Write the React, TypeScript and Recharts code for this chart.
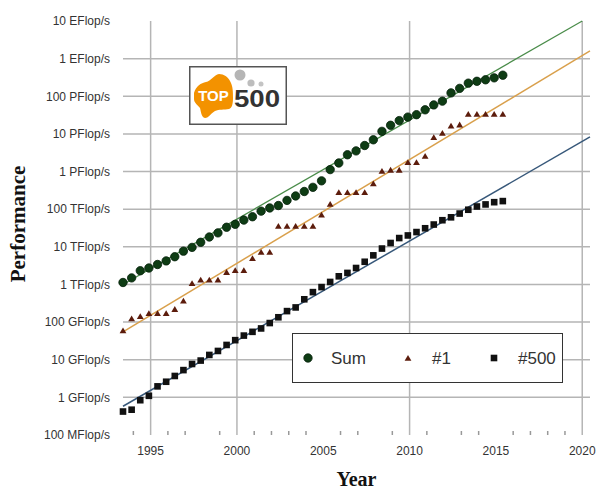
import React from 'react';
import {
    ComposedChart,
    Scatter,
    Line,
    XAxis,
    YAxis,
    CartesianGrid,
    Legend,
} from 'recharts';

// TOP500 list dates (June / November), as fractional years
const listDates = [
    1993.4, 1993.9, 1994.4, 1994.9, 1995.4, 1995.9, 1996.4, 1996.9, 1997.4, 1997.9,
    1998.4, 1998.9, 1999.4, 1999.9, 2000.4, 2000.9, 2001.4, 2001.9, 2002.4, 2002.9,
    2003.4, 2003.9, 2004.4, 2004.9, 2005.4, 2005.9, 2006.4, 2006.9, 2007.4, 2007.9,
    2008.4, 2008.9, 2009.4, 2009.9, 2010.4, 2010.9, 2011.4, 2011.9, 2012.4, 2012.9,
    2013.4, 2013.9, 2014.4, 2014.9, 2015.4,
];

// all values in GFlop/s
const sumGF = [
    1128, 1493, 2317, 2732, 3392, 4221, 5455, 7661, 9648, 13188,
    18247, 23466, 33096, 39605, 51376, 62998, 88658, 107810, 125120, 171100,
    224600, 295200, 380500, 566600, 1127000, 1690000, 2792000, 3537000, 4920000, 6970000,
    11700000, 16960000, 22600000, 27950000, 32400000, 43700000, 58900000, 74200000, 123000000, 162000000,
    223000000, 250000000, 274000000, 309000000, 363000000,
];

const firstGF = [
    59.7, 124.5, 143.4, 170.4, 170.4, 170.4, 220.4, 368.2, 1068, 1338,
    1338, 1338, 2121, 2379, 2379, 4938, 7226, 7226, 35860, 35860,
    35860, 35860, 35860, 70720, 136800, 280600, 280600, 280600, 280600, 478200,
    1026000, 1105000, 1105000, 1759000, 1759000, 2566000, 8162000, 10510000, 16320000, 17590000,
    33860000, 33860000, 33860000, 33860000, 33860000,
];

const lastGF = [
    0.42, 0.47, 0.84, 1.1, 1.96, 2.6, 3.7, 5.3, 7.7, 9.5,
    13.4, 17.1, 24.7, 33.1, 43.8, 55.1, 67.8, 94.3, 134.3, 195.8,
    245.1, 403.4, 625.3, 850.6, 1166, 1646, 2026, 2737, 4005, 5929,
    9000, 12640, 17090, 20050, 24670, 31120, 39100, 50900, 60800, 76500,
    96600, 117800, 133700, 153400, 164000,
];

// trend line end points (x = year, y = GFlop/s)
const sumTrend = [{ x: 1993.4, y: 1000 }, { x: 2020.0, y: 1e10 }];
const firstTrend = [{ x: 1993.4, y: 55 }, { x: 2020.45, y: 1.6e9 }];
const lastTrend = [{ x: 1993.4, y: 0.58 }, { x: 2020.45, y: 8.3e6 }];

const yTicks = [0.1, 1, 10, 100, 1e3, 1e4, 1e5, 1e6, 1e7, 1e8, 1e9, 1e10];
const yTickLabels = [
    '100 MFlop/s', '1 GFlop/s', '10 GFlop/s', '100 GFlop/s', '1 TFlop/s', '10 TFlop/s',
    '100 TFlop/s', '1 PFlop/s', '10 PFlop/s', '100 PFlop/s', '1 EFlop/s', '10 EFlop/s',
];
const gridLevels = [1, 10, 100, 1e3, 1e4, 1e5, 1e6, 1e7, 1e8, 1e9];
const gridYears = [1995, 2000, 2010, 2020];
const labelYears = [1995, 2000, 2005, 2010, 2015, 2020];
const minorTickYears = [1994, 1996, 1997, 1999, 2001, 2002, 2003, 2004, 2006, 2007, 2009, 2011, 2013, 2014, 2016, 2017, 2018, 2019];

const sumPoints = listDates.map((x, i) => ({ x, y: sumGF[i] }));
const firstPoints = listDates.map((x, i) => ({ x, y: firstGF[i] }));
const lastPoints = listDates.map((x, i) => ({ x, y: lastGF[i] }));

const sans = '"Liberation Sans", Arial, sans-serif';
const serif = '"Liberation Serif", "Times New Roman", serif';
const textColor = '#333';

const Dot = ({ cx, cy, size = 4.2 }: any) => (
    <circle cx={cx} cy={cy} r={size} fill="#0e3c14" stroke="#05200a" strokeWidth={0.8} />
);
const Tri = ({ cx, cy, size = 3.4 }: any) => (
    <polygon points={`${cx - size},${cy + size * 0.8} ${cx + size},${cy + size * 0.8} ${cx},${cy - size * 0.9}`} fill="#5c1c0c" />
);
const Sq = ({ cx, cy, size = 3.3 }: any) => (
    <rect x={cx - size} y={cy - size} width={size * 2} height={size * 2} fill="#111" />
);

const YearTick = ({ x, y, payload }: any) => {
    const v = payload.value;
    if (labelYears.includes(v)) {
        return (
            <text x={x} y={y} dy={9} textAnchor="middle" fontSize={12} fontFamily={sans} fill={textColor}>
                {v}
            </text>
        );
    }
    if (minorTickYears.includes(v)) {
        return <line x1={x} x2={x} y1={y - 15} y2={y - 11} stroke="#999" strokeWidth={1.5} />;
    }
    return <g />;
};

const legendItems = [
    { name: 'Sum', Icon: Dot, iconX: 15, textX: 38 },
    { name: '#1', Icon: Tri, iconX: 115, textX: 139 },
    { name: '#500', Icon: Sq, iconX: 201, textX: 225 },
];

const LegendBox = () => (
    <div style={{ width: 271, height: 50, border: '1.5px solid #333', background: '#fff', boxSizing: 'border-box', position: 'relative' }}>
        <svg width={268} height={47} style={{ position: 'absolute', left: 0, top: 0 }}>
            {legendItems.map((it) => (
                <g key={it.name}>
                    <it.Icon cx={it.iconX} cy={24} />
                    <text x={it.textX} y={30} fontSize={17} fontFamily={sans} fill={textColor}>{it.name}</text>
                </g>
            ))}
        </svg>
    </div>
);

const Logo = () => (
    <svg width={98} height={59} style={{ position: 'absolute', left: 189, top: 66 }}>
        <rect x={0.75} y={0.75} width={96.5} height={57.5} fill="#fff" stroke="#555" strokeWidth={1.5} />
        <path
            d="M5,27 C7,20 12,17 17,16 C22,15 25,9 30,8 C35,8 39,11 41,15 C44,20 44,26 44,32 C44,38 43,42 40,43 C35,44 30,43 26,45 C22,47 20,52 16,52 C12,51 12,45 11,42 C9,39 5,37 5,33 Z"
            fill="#f39200"
        />
        <text x={24.5} y={35} textAnchor="middle" fontSize={15} fontWeight="bold" fontFamily={sans} fill="#fff">TOP</text>
        <text x={45} y={41} fontSize={24} fontWeight="bold" fontFamily={sans} fill="#333" transform="translate(45 41) scale(1.15 1) translate(-45 -41)">500</text>
        <circle cx={51} cy={9} r={5.5} fill="#b5b5b5" />
        <circle cx={62} cy={17} r={3.6} fill="#bdbdbd" />
        <circle cx={72} cy={18} r={2.5} fill="#c4c4c4" />
    </svg>
);

export default function App() {
    return (
        <div style={{ position: 'absolute', left: 0, top: 0, width: 598, height: 491, background: '#fff' }}>
            <ComposedChart width={598} height={491} margin={{ top: 21, right: 8, bottom: 0, left: 0 }}>
                <CartesianGrid
                    horizontalValues={gridLevels}
                    verticalValues={gridYears}
                    stroke="#b5b5b5"
                    strokeWidth={1.5}
                />
                <XAxis
                    dataKey="x"
                    type="number"
                    domain={[1993.4, 2020.45]}
                    ticks={[...labelYears, ...minorTickYears].sort((a, b) => a - b)}
                    interval={0}
                    axisLine={false}
                    tickLine={false}
                    tickSize={0}
                    tickMargin={11}
                    height={56}
                    tick={<YearTick />}
                    label={{
                        content: ({ viewBox }: any) => (
                            <text x={viewBox.x + viewBox.width / 2} y={viewBox.y + viewBox.height - 5} textAnchor="middle" fontSize={20} fontWeight="bold" fontFamily={serif} fill="#111">
                                Year
                            </text>
                        ),
                    }}
                />
                <YAxis
                    dataKey="y"
                    type="number"
                    scale="log"
                    domain={[0.1, 1e10]}
                    ticks={yTicks}
                    interval={0}
                    width={123}
                    axisLine={false}
                    tickLine={false}
                    tickSize={0}
                    tickMargin={13}
                    tick={{ fontSize: 12, fontFamily: sans, fill: textColor }}
                    tickFormatter={(v: number) => yTickLabels[yTicks.findIndex((t) => Math.abs(Math.log10(t) - Math.log10(v)) < 0.01)]}
                    label={{
                        content: ({ viewBox }: any) => {
                            const cx = viewBox.x + 18;
                            const cy = viewBox.y + viewBox.height / 2 - 4;
                            return (
                                <text x={cx} y={cy} transform={`rotate(-90 ${cx} ${cy})`} dy={7} textAnchor="middle" fontSize={21} fontWeight="bold" fontFamily={serif} fill="#111">
                                    Performance
                                </text>
                            );
                        },
                    }}
                />
                <Line data={sumTrend} dataKey="y" stroke="#4a8c4a" strokeWidth={1.3} dot={false} legendType="none" isAnimationActive={false} />
                <Line data={firstTrend} dataKey="y" stroke="#d9a04c" strokeWidth={1.5} dot={false} legendType="none" isAnimationActive={false} />
                <Line data={lastTrend} dataKey="y" stroke="#37587a" strokeWidth={1.5} dot={false} legendType="none" isAnimationActive={false} />
                <Scatter name="Sum" data={sumPoints} dataKey="y" shape={(p: any) => <Dot cx={p.cx} cy={p.cy} />} isAnimationActive={false} />
                <Scatter name="#1" data={firstPoints} dataKey="y" shape={(p: any) => <Tri cx={p.cx} cy={p.cy} />} isAnimationActive={false} />
                <Scatter name="#500" data={lastPoints} dataKey="y" shape={(p: any) => <Sq cx={p.cx} cy={p.cy} />} isAnimationActive={false} />
                <Legend
                    layout="horizontal"
                    verticalAlign="middle"
                    align="center"
                    content={<LegendBox />}
                    wrapperStyle={{ position: 'absolute', left: 292, top: 333, width: 271, height: 50 }}
                />
            </ComposedChart>
            <Logo />
        </div>
    );
}
